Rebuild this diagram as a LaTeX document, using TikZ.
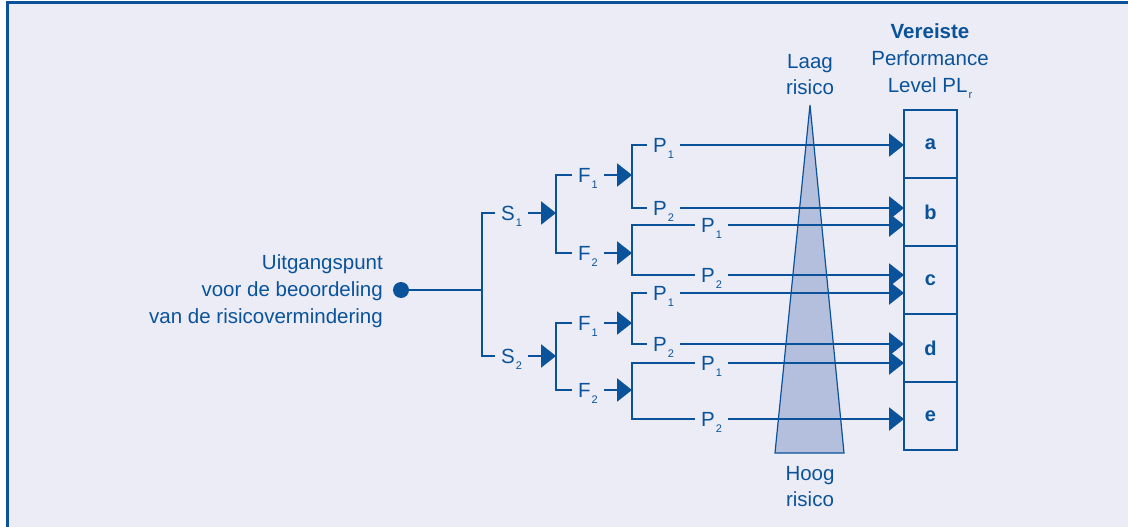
\documentclass[tikz,border=0pt]{standalone}
\usepackage{fontspec}
\setmainfont{Liberation Sans}
\usetikzlibrary{positioning,arrows.meta}

\definecolor{plblue}{RGB}{10,83,155}
\definecolor{plback}{RGB}{236,236,246}
\definecolor{plrisk}{RGB}{180,190,221}

\newcommand{\idx}[1]{\kern1pt\raisebox{-6pt}{\fontsize{11}{11}\selectfont #1}}

\begin{document}
\begin{tikzpicture}[x=1pt, y=-1pt,
    line/.style={plblue, line width=2.7pt},
    arr/.style={line, -{Triangle[length=15pt, width=23pt]}},
    lbl/.style={text=plblue, anchor=west, inner xsep=6pt, inner ysep=0pt,
        text height=14.5pt, text depth=0pt, font=\fontsize{20.5}{20.5}\selectfont},
    box/.style={draw=plblue, line width=2.7pt, text=plblue, minimum width=53pt,
        minimum height=68pt, outer sep=0pt, font=\fontsize{20}{20}\selectfont\bfseries},
    txt/.style={text=plblue, align=center, inner sep=0pt, font=\fontsize{20.5}{26.8}\selectfont},
    ]
    \useasboundingbox (0,0) rectangle (1128,527);
    \fill[white] (0,0) rectangle (1128,527);
    \fill[plback] (7,3) rectangle (1128,527);
    \draw[plblue, line width=3pt] (7,527) -- (7,3) -- (1128,3);

    \draw[plblue, line width=1.2pt, fill=plrisk] (810,105) -- (844,453) -- (775,453) -- cycle;
    \node[txt] (laag) at (810,74.5) {Laag\\risico};
    \node[txt] (hoog) at (810,486.5) {Hoog\\risico};
    \node[txt] (level) at (930,61) {\textbf{Vereiste}\\Performance\\Level PL\idx{r}};

    \node[txt, align=right, anchor=east] (origin) at (383,291) {Uitgangspunt\\voor de beoordeling\\van de risicovermindering};
    \node[circle, fill=plblue, minimum size=16pt, inner sep=0pt] (start) at (401,290) {};

    \coordinate (sj) at (482,290);
    \coordinate (f1j) at (556,213);
    \coordinate (f2j) at (556,356);
    \coordinate (p1j) at (632,175);
    \coordinate (p2j) at (632,253);
    \coordinate (p3j) at (632,323);
    \coordinate (p4j) at (632,390);

    \node[lbl] (s1) at (495,213) {S\idx{1}};
    \node[lbl] (s2) at (495,356) {S\idx{2}};

    \node[lbl] (f11) at (572,175) {F\idx{1}};
    \node[lbl] (f12) at (572,253) {F\idx{2}};
    \node[lbl] (f21) at (572,323) {F\idx{1}};
    \node[lbl] (f22) at (572,390) {F\idx{2}};

    \node[lbl] (p11) at (647,145) {P\idx{1}};
    \node[lbl] (p12) at (647,208) {P\idx{2}};
    \node[lbl] (p21) at (695,225) {P\idx{1}};
    \node[lbl] (p22) at (695,275) {P\idx{2}};
    \node[lbl] (p31) at (647,293) {P\idx{1}};
    \node[lbl] (p32) at (647,344) {P\idx{2}};
    \node[lbl] (p41) at (695,363) {P\idx{1}};
    \node[lbl] (p42) at (695,419) {P\idx{2}};

    \node[box] (a) at (930.5,144) {a};
    \node[box, below=0pt of a] (b) {b};
    \node[box, below=0pt of b] (c) {c};
    \node[box, below=0pt of c] (d) {d};
    \node[box, below=0pt of d] (e) {e};

    \draw[line] (start) -- (sj);
    \draw[line] (s1.west) -| (sj) |- (s2.west);
    \draw[arr] (s1.east) -- (f1j);
    \draw[arr] (s2.east) -- (f2j);

    \draw[line] (f11.west) -| (f1j) |- (f12.west);
    \draw[line] (f21.west) -| (f2j) |- (f22.west);
    \draw[arr] (f11.east) -- (p1j);
    \draw[arr] (f12.east) -- (p2j);
    \draw[arr] (f21.east) -- (p3j);
    \draw[arr] (f22.east) -- (p4j);

    \draw[line] (p11.west) -| (p1j) |- (p12.west);
    \draw[line] (p21.west) -| (p2j) |- (p22.west);
    \draw[line] (p31.west) -| (p3j) |- (p32.west);
    \draw[line] (p41.west) -| (p4j) |- (p42.west);

    \draw[arr] (p11.east) -- (p11.east -| a.west);
    \draw[arr] (p12.east) -- (p12.east -| b.west);
    \draw[arr] (p21.east) -- (p21.east -| b.west);
    \draw[arr] (p22.east) -- (p22.east -| c.west);
    \draw[arr] (p31.east) -- (p31.east -| c.west);
    \draw[arr] (p32.east) -- (p32.east -| d.west);
    \draw[arr] (p41.east) -- (p41.east -| d.west);
    \draw[arr] (p42.east) -- (p42.east -| e.west);
\end{tikzpicture}
\end{document}
